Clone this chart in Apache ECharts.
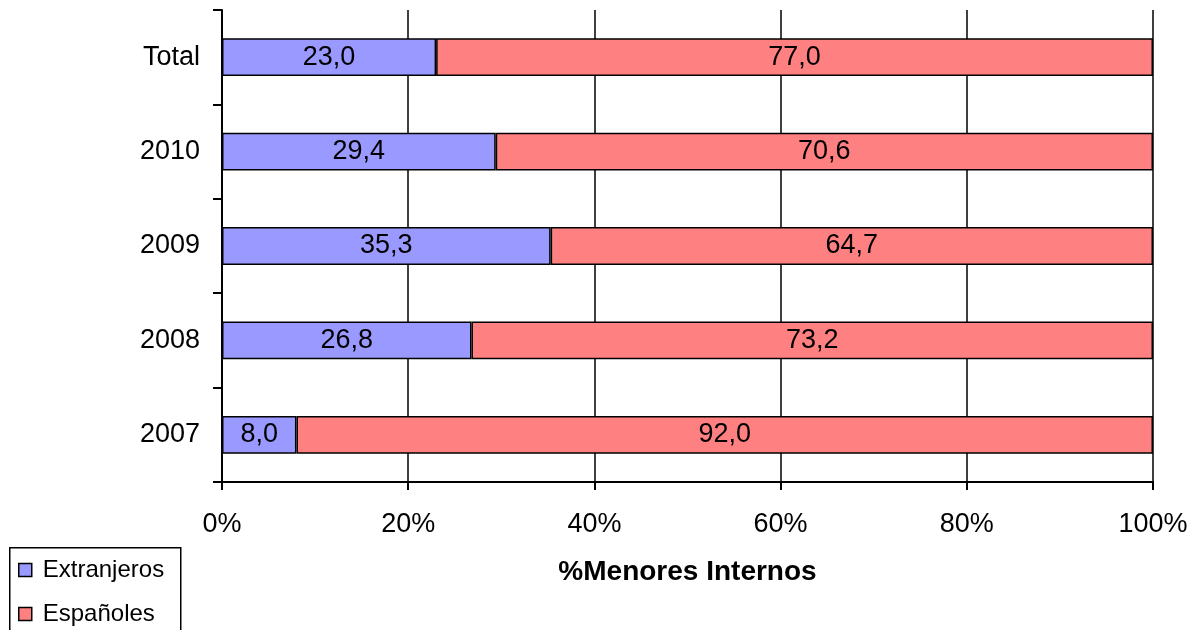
<!DOCTYPE html>
<html>
<head>
<meta charset="utf-8">
<script src="https://cdn.jsdelivr.net/npm/echarts@6/dist/echarts.min.js"></script>
<style>
  html, body { margin: 0; padding: 0; background: #fff; }
  #chart { width: 1197px; height: 630px; }
</style>
</head>
<body>
<div id="chart"></div>
<script>
// Share of interned minors by origin, per year (percent)
const categories = ['2007', '2008', '2009', '2010', 'Total'];
const extranjeros = [8.0, 26.8, 35.3, 29.4, 23.0];
const espanoles = [92.0, 73.2, 64.7, 70.6, 77.0];
const xTicks = [0, 20, 40, 60, 80, 100];

const FONT = '"Liberation Sans", Arial, sans-serif';
const fmt = v => v.toFixed(1).replace('.', ',');

const chart = echarts.init(document.getElementById('chart'));

const barLabel = {
  show: true,
  position: 'inside',
  color: '#000',
  fontFamily: FONT,
  fontSize: 27,
  formatter: p => fmt(p.value)
};

chart.setOption({
  animation: false,
  textStyle: { fontFamily: FONT },
  grid: { left: 222, right: 44, top: 10, bottom: 148, containLabel: false },
  // frame around the legend, running off the bottom edge
  graphic: [{
    type: 'rect',
    left: 9,
    top: 547,
    shape: { width: 171, height: 110 },
    style: { fill: '#fff', stroke: '#000', lineWidth: 1.5 },
    z: 0
  }],
  legend: {
    orient: 'vertical',
    left: 18,
    top: 558,
    itemWidth: 13,
    itemHeight: 13,
    itemGap: 20,
    padding: 0,
    icon: 'rect',
    itemStyle: { borderColor: '#000', borderWidth: 1.5 },
    textStyle: { fontFamily: FONT, fontSize: 24, color: '#000', padding: [0, 0, 0, 6] },
    data: ['Extranjeros', 'Españoles'],
    z: 5
  },
  xAxis: {
    type: 'value',
    min: xTicks[0],
    max: xTicks[xTicks.length - 1],
    interval: 20,
    name: '%Menores Internos',
    nameLocation: 'middle',
    nameGap: 76,
    nameTextStyle: { fontFamily: FONT, fontSize: 28, fontWeight: 'bold', color: '#000' },
    axisLine: { show: true, lineStyle: { color: '#000', width: 2 } },
    axisTick: { show: true, length: 8, lineStyle: { color: '#000', width: 2 } },
    axisLabel: { color: '#000', fontSize: 27, fontFamily: FONT, margin: 29, formatter: v => v + '%' },
    splitLine: { show: true, lineStyle: { color: '#000', width: 1.5 } }
  },
  yAxis: {
    type: 'category',
    data: categories,
    axisLine: { show: true, lineStyle: { color: '#000', width: 2 } },
    axisTick: { show: true, length: 9, alignWithLabel: false, lineStyle: { color: '#000', width: 2 } },
    axisLabel: { color: '#000', fontSize: 27, fontFamily: FONT, margin: 22 },
    splitLine: { show: false }
  },
  series: [
    {
      name: 'Extranjeros',
      type: 'bar',
      stack: 'total',
      data: extranjeros,
      barWidth: '40%',
      itemStyle: { color: '#9999FF', borderColor: '#000', borderWidth: 1.5 },
      label: barLabel
    },
    {
      name: 'Españoles',
      type: 'bar',
      stack: 'total',
      data: espanoles,
      barWidth: '40%',
      itemStyle: { color: '#FF8080', borderColor: '#000', borderWidth: 1.5 },
      label: barLabel
    }
  ]
});
</script>
</body>
</html>
